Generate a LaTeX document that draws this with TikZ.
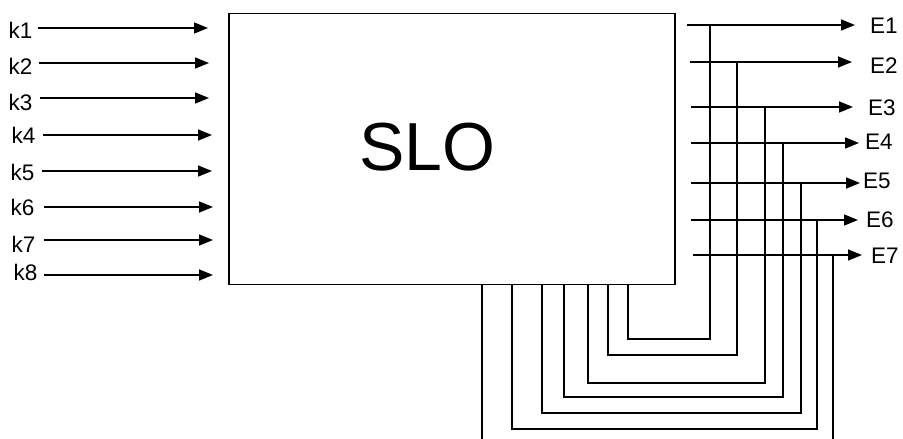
\documentclass[tikz,border=0pt]{standalone}
\usepackage{fontspec}
\setmainfont{Liberation Sans}
\usetikzlibrary{arrows.meta}
\tikzset{
  wire/.style={line width=1.5pt, black},
  arr/.style={wire, -{Triangle[length=14pt,width=11pt]}},
  lbl/.style={inner sep=0pt, anchor=base west, font=\fontsize{22.5}{25}\selectfont},
  blockbox/.style={draw, line width=1.5pt, minimum width=446pt, minimum height=271pt, inner sep=0pt}
}
\begin{document}
\begin{tikzpicture}[x=1pt, y=-1pt]
\clip (0,0) rectangle (903,439);
\fill[white] (0,0) rectangle (903,439);
% main block
\node[blockbox] (box) at (452,149) {};
\node[inner sep=0pt, anchor=base west, font=\fontsize{68}{72}\selectfont] (slo) at (359,170) {SLO};
% inputs
\foreach \i/\lx/\by/\sx/\ly/\tx in {1/8.5/38/38/28/208, 2/8.5/74/39/63/209, 3/8.5/110/40/98/209, 4/11.5/143/43/135/212, 5/10.5/180/42/171/212, 6/10.5/215/44/207/213, 7/11.5/252/44/240/213, 8/13.5/280/44/275/213}{
  \node[lbl] (k\i) at (\lx,\by) {k\i};
  \coordinate (s\i) at (\sx,\ly);
  \coordinate (t\i) at (\tx,\ly);
  \draw[arr] (s\i) -- (t\i);
}
% outputs
\foreach \i/\ox/\oy/\tx/\lx/\by in {1/687/25/855/870/34, 2/690/62/852/870/73, 3/691/107/853/868/115, 4/691/143/859/865/149, 5/691/183/860/863/188, 6/691/220/858/866/227, 7/693/255/862/871/263}{
  \coordinate (o\i) at (\ox,\oy);
  \coordinate (e\i) at (\tx,\oy);
  \node[lbl] (E\i) at (\lx,\by) {E\i};
  \draw[arr] (o\i) -- (e\i);
}
% feedback loops
\foreach \i/\vx/\oy/\cy/\fx in {1/710/25/339/628, 2/737/62/355/608, 3/765/107/383/588, 4/783/143/397/564, 5/801/183/413/542, 6/817/220/429/512, 7/833/255/446/482}{
  \coordinate (j\i) at (\vx,\oy);
  \coordinate (c\i) at (\vx,\cy);
  \coordinate (f\i) at (\fx,284.5);
  \draw[wire] (j\i) -- (c\i) -| (f\i);
}
\end{tikzpicture}
\end{document}
